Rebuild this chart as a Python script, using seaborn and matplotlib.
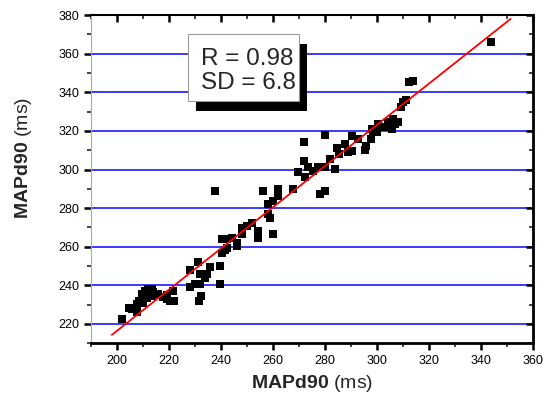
## Import Libraries
import numpy as np
import pandas as pd
import matplotlib
matplotlib.use("Agg")
import matplotlib.pyplot as plt
from matplotlib.patches import Rectangle
from matplotlib.ticker import MultipleLocator
import seaborn as sns

## Data
x_vals = [201.8, 204.5, 205.9, 207.6, 207.6, 208.5, 209.5, 210.1, 210.8, 211.5,
          212.1, 213.3, 213.4, 214.0, 215.9, 217.5, 219.1, 219.1, 220.4, 222.1,
          221.7, 228.1, 228.1, 230.0, 231.3, 231.9, 231.9, 231.5, 232.5, 233.8,
          234.5, 235.8, 239.8, 239.8, 237.7, 240.3, 240.3, 241.5, 242.2, 242.2,
          244.1, 246.0, 246.0, 248.0, 248.0, 249.9, 251.8, 254.1, 254.1, 256.0,
          258.2, 258.2, 259.0, 260.1, 260.1, 261.8, 261.8, 267.8, 269.8, 272.1,
          272.1, 272.3, 273.6, 275.5, 277.5, 278.1, 280.0, 280.0, 280.0, 282.0,
          283.9, 284.5, 285.5, 287.7, 289.0, 290.3, 290.3, 292.8, 295.6, 296.0,
          297.6, 298.0, 298.6, 299.9, 300.5, 302.4, 303.7, 304.4, 305.7, 306.3,
          306.9, 308.2, 309.5, 310.1, 311.4, 312.3, 314.0, 344.1]
y_vals = [222.5, 228.0, 227.5, 226.3, 230.3, 232.0, 235.3, 230.9, 237.1, 233.5,
          237.9, 238.0, 234.4, 236.5, 235.6, 234.0, 234.9, 233.0, 231.8, 231.8,
          237.0, 248.0, 238.9, 240.5, 251.8, 246.0, 240.6, 232.0, 234.5, 244.0,
          245.8, 249.5, 250.0, 240.5, 289.0, 256.9, 263.8, 258.5, 263.8, 259.5,
          264.7, 262.1, 260.4, 269.9, 266.4, 270.8, 272.5, 268.2, 264.7, 288.9,
          282.0, 277.0, 275.0, 283.7, 266.4, 289.8, 286.3, 289.8, 298.5, 314.0,
          304.5, 295.9, 301.1, 299.3, 301.1, 287.2, 288.9, 301.1, 318.0, 305.4,
          300.2, 311.4, 308.0, 313.2, 309.0, 317.5, 309.7, 315.8, 310.2, 312.0,
          315.9, 321.0, 319.5, 319.2, 323.7, 321.8, 322.0, 324.4, 321.0, 326.3,
          323.7, 324.4, 332.4, 335.0, 335.9, 345.2, 346.0, 366.2]

# regression line
fit_slope = 1.067
fit_intercept = 3.0
fit_x = [198.0, 351.5]

stats_text = "R = 0.98\nSD = 6.8"
axis_label = r"$\mathbf{MAPd90}$ (ms)"

df = pd.DataFrame({"x": x_vals, "y": y_vals})
fit_df = pd.DataFrame({"x": fit_x})
fit_df["y"] = fit_slope * fit_df["x"] + fit_intercept

## Style
sns.set_style("ticks")
plt.rcParams["font.family"] = ["Liberation Sans", "DejaVu Sans"]
plt.rcParams["mathtext.fontset"] = "custom"
plt.rcParams["mathtext.bf"] = "Liberation Sans:bold"
plt.rcParams["mathtext.rm"] = "Liberation Sans"

fig = plt.figure(figsize=(5.52, 3.99), dpi=100)
ax = fig.add_axes([0.165, 0.14, 0.80, 0.822])

## Plot
ax.yaxis.grid(True, which="major", color="#2b2bff", linewidth=1.3)
ax.set_axisbelow(True)

sns.scatterplot(data=df, x="x", y="y", marker="s", color="black",
                s=34, linewidth=0, ax=ax, zorder=3)
sns.lineplot(data=fit_df, x="x", y="y", color="red", linewidth=1.3,
             ax=ax, zorder=4)

ax.set_xlim(190, 360)
ax.set_ylim(210, 380)
ax.xaxis.set_major_locator(MultipleLocator(20))
ax.xaxis.set_minor_locator(MultipleLocator(10))
ax.yaxis.set_major_locator(MultipleLocator(20))
ax.yaxis.set_minor_locator(MultipleLocator(10))

ax.tick_params(axis="both", which="major", labelsize=9, length=5, width=1.8,
               color="black", labelcolor="black")
ax.tick_params(axis="both", which="minor", length=3, width=1.2)
ax.tick_params(top=True, right=True, which="both", direction="out")
for t in ax.xaxis.get_major_ticks() + ax.xaxis.get_minor_ticks():
    t.tick2line.set_marker(3)
for t in ax.yaxis.get_major_ticks() + ax.yaxis.get_minor_ticks():
    t.tick2line.set_marker(0)

for side in ["bottom", "right"]:
    ax.spines[side].set_linewidth(2)
    ax.spines[side].set_color("black")
ax.spines["top"].set_linewidth(1.5)
ax.spines["top"].set_color("black")
ax.spines["left"].set_linewidth(0.8)
ax.spines["left"].set_color("#aaaaaa")

ax.set_xlabel(axis_label, fontsize=14, labelpad=4)
ax.set_ylabel(axis_label, fontsize=14)
ax.yaxis.set_label_coords(-0.13, 0.565)

## Stats box with shadow
ax.add_patch(Rectangle((0.2376, 0.707), 0.251, 0.204, transform=ax.transAxes,
                       facecolor="black", edgecolor="none", zorder=5))
ax.add_patch(Rectangle((0.2195, 0.738), 0.251, 0.204, transform=ax.transAxes,
                       facecolor="white", edgecolor="#999999", linewidth=0.8,
                       zorder=6))
ax.text(0.250, 0.830, stats_text, transform=ax.transAxes, fontsize=17.5,
        ha="left", va="center", linespacing=1.08, zorder=7)

plt.savefig("out.png", dpi=100)
